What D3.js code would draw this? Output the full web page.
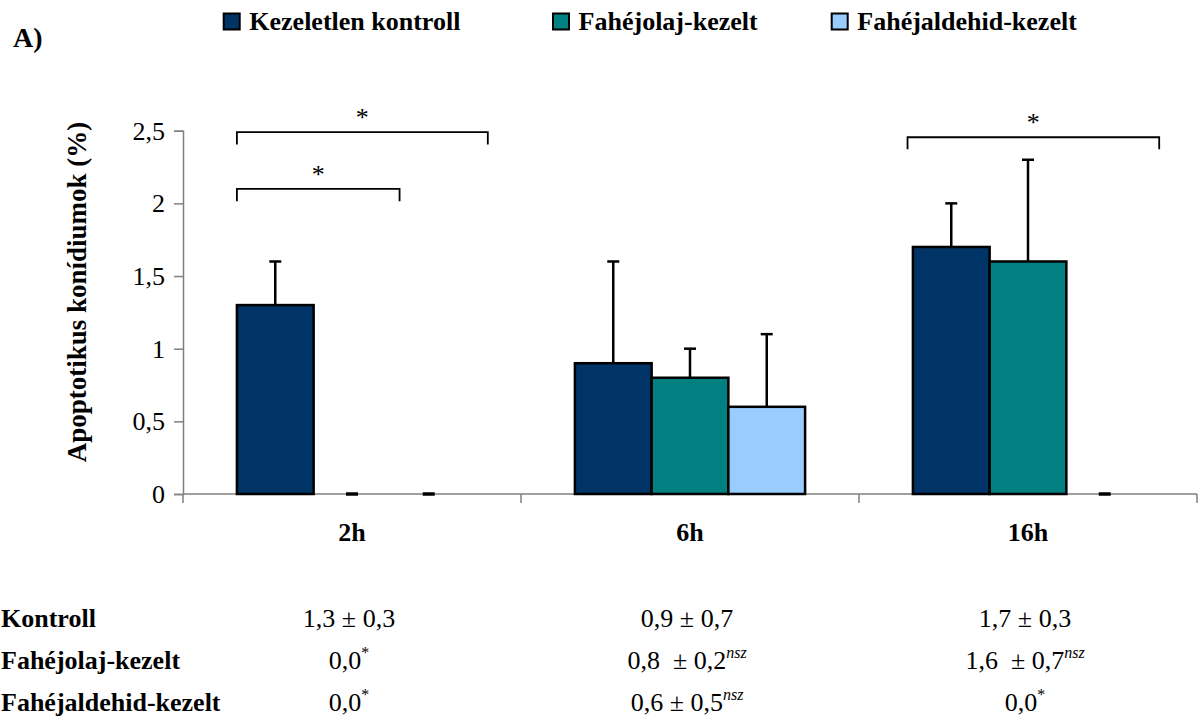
<!DOCTYPE html>
<html>
<head>
<meta charset="utf-8">
<script src="https://cdn.jsdelivr.net/npm/d3@7"></script>
</head>
<body style="margin:0;padding:0;background:#fff">
<svg id="chart" width="1201" height="724"></svg>
<script>
// Time points and treatment groups
const categories = ["2h", "6h", "16h"];
const seriesNames = ["Kezeletlen kontroll", "Fahéjolaj-kezelt", "Fahéjaldehid-kezelt"];
const seriesColors = ["#003366", "#008080", "#99ccff"];

// Apoptotic conidia (%) – mean and SD per time point
const controlValues   = [1.3, 0.9, 1.7];
const controlErrors   = [0.3, 0.7, 0.3];
const oilValues       = [0.0, 0.8, 1.6];
const oilErrors       = [0.0, 0.2, 0.7];
const aldehydeValues  = [0.0, 0.6, 0.0];
const aldehydeErrors  = [0.0, 0.5, 0.0];

const yTicks = [0, 0.5, 1, 1.5, 2, 2.5];
const yLabel = "Apoptotikus konídiumok (%)";
const panelLabel = "A)";

// Summary table under the chart: [value text, superscript]
const tableRowLabels = ["Kontroll", "Fahéjolaj-kezelt", "Fahéjaldehid-kezelt"];
const tableControl  = [["1,3 ± 0,3", ""], ["0,9 ± 0,7", ""], ["1,7 ± 0,3", ""]];
const tableOil      = [["0,0", "*"], ["0,8\u00a0 ± 0,2", "nsz"], ["1,6\u00a0 ± 0,7", "nsz"]];
const tableAldehyde = [["0,0", "*"], ["0,6 ± 0,5", "nsz"], ["0,0", "*"]];

// Significance brackets: span given in bar widths from the group's left edge, height in data units
const brackets = [
  { cat: "2h",  from: 0,     to: 2.12, y: 2.10, drop: 0.085, mark: "*" },
  { cat: "2h",  from: 0,     to: 3.27, y: 2.49, drop: 0.085, mark: "*" },
  { cat: "16h", from: -0.07, to: 3.21, y: 2.455, drop: 0.083, mark: "*" }
];

const series = [
  { name: seriesNames[0], values: controlValues,  errors: controlErrors,  color: seriesColors[0] },
  { name: seriesNames[1], values: oilValues,      errors: oilErrors,      color: seriesColors[1] },
  { name: seriesNames[2], values: aldehydeValues, errors: aldehydeErrors, color: seriesColors[2] }
];

const svg = d3.select("#chart");
const FONT = '"Liberation Serif"';
const FS = 26;

// Helper: serif text with inline style
function serif(sel, size, bold) {
  return sel.style("font-family", FONT)
    .style("font-size", size + "px")
    .style("font-weight", bold ? "bold" : "normal")
    .style("fill", "#000");
}

const x = d3.scaleBand().domain(categories).range([183, 1197]).paddingInner(0).paddingOuter(0);
const y = d3.scaleLinear().domain([0, 2.5]).range([494, 130.7]);
const barW = x.bandwidth() * 0.227;
const inner = d3.scaleBand().domain(seriesNames).range([0, 3 * barW]);
const groupLeft = c => x(c) + (x.bandwidth() - 3 * barW) / 2;

// Y axis
const yAxis = svg.append("g")
  .attr("transform", "translate(183,0)")
  .call(d3.axisLeft(y).tickValues(yTicks).tickSize(9).tickPadding(9)
    .tickFormat(d => String(d).replace(".", ",")));
yAxis.attr("font-family", null).attr("font-size", null);
yAxis.select(".domain").attr("stroke", "#808080").attr("stroke-width", 1.5);
yAxis.selectAll(".tick line").attr("stroke", "#808080").attr("stroke-width", 1.5);
serif(yAxis.selectAll(".tick text"), FS, false);

// X axis: baseline with ticks at category boundaries
const xBase = svg.append("g");
xBase.append("line")
  .attr("x1", x.range()[0]).attr("x2", x.range()[1])
  .attr("y1", y(0)).attr("y2", y(0))
  .attr("stroke", "#808080").attr("stroke-width", 1.5);
const boundaries = categories.map(c => x(c)).concat([x(categories[categories.length - 1]) + x.bandwidth()]);
xBase.selectAll("line.bt").data(boundaries).enter().append("line")
  .attr("class", "bt")
  .attr("x1", d => d).attr("x2", d => d)
  .attr("y1", y(0)).attr("y2", y(0) + 9)
  .attr("stroke", "#808080").attr("stroke-width", 1.5);

// Category labels
serif(svg.selectAll("text.cat").data(categories).enter().append("text")
  .attr("class", "cat")
  .attr("x", d => x(d) + x.bandwidth() / 2)
  .attr("y", 541)
  .attr("text-anchor", "middle"), FS, true)
  .text(d => d);

// Bars and error bars
const barData = [];
series.forEach(s => categories.forEach((c, i) => {
  barData.push({ cat: c, name: s.name, v: s.values[i], e: s.errors[i], color: s.color });
}));
const bx = d => groupLeft(d.cat) + inner(d.name);

svg.append("g").selectAll("rect").data(barData.filter(d => d.v > 0)).enter().append("rect")
  .attr("x", bx)
  .attr("y", d => y(d.v))
  .attr("width", barW)
  .attr("height", d => y(0) - y(d.v))
  .attr("fill", d => d.color)
  .attr("stroke", "#000").attr("stroke-width", 2.5);

const eb = svg.append("g").attr("stroke", "#000").attr("stroke-width", 2.5);
eb.selectAll("line.stem").data(barData.filter(d => d.e > 0)).enter().append("line")
  .attr("class", "stem")
  .attr("x1", d => bx(d) + barW / 2).attr("x2", d => bx(d) + barW / 2)
  .attr("y1", d => y(d.v)).attr("y2", d => y(d.v + d.e));
eb.selectAll("line.cap").data(barData).enter().append("line")
  .attr("class", "cap")
  .attr("x1", d => bx(d) + barW / 2 - 6).attr("x2", d => bx(d) + barW / 2 + 6)
  .attr("y1", d => y(d.v + d.e)).attr("y2", d => y(d.v + d.e))
  .attr("stroke-width", d => d.e > 0 ? 2.5 : 3.5);

// Significance brackets
const br = svg.append("g");
brackets.forEach(b => {
  const x1 = groupLeft(b.cat) + b.from * barW;
  const x2 = groupLeft(b.cat) + b.to * barW;
  br.append("path")
    .attr("d", `M${x1},${y(b.y - b.drop)}V${y(b.y)}H${x2}V${y(b.y - b.drop)}`)
    .attr("fill", "none").attr("stroke", "#000").attr("stroke-width", 1.8);
  serif(br.append("text")
    .attr("x", (x1 + x2) / 2).attr("y", y(b.y) - 6)
    .attr("text-anchor", "middle"), FS, false)
    .text(b.mark);
});

// Y axis title
serif(svg.append("text")
  .attr("transform", "translate(86,292) rotate(-90)")
  .attr("text-anchor", "middle"), 27, true)
  .text(yLabel);

// Panel label
serif(svg.append("text").attr("x", 13).attr("y", 47), 28, true).text(panelLabel);

// Legend
const legendX = [222.7, 552, 830.7];
const lg = svg.append("g");
series.forEach((s, i) => {
  lg.append("rect")
    .attr("x", legendX[i] + 1).attr("y", 13.5)
    .attr("width", 16).attr("height", 16)
    .attr("fill", s.color).attr("stroke", "#000").attr("stroke-width", 2);
  serif(lg.append("text")
    .attr("x", legendX[i] + 26.6).attr("y", 30), FS, true)
    .text(s.name);
});

// Summary table
const tableRows = [tableControl, tableOil, tableAldehyde];
const rowY = [627, 669, 711];
tableRowLabels.forEach((lab, r) => {
  serif(svg.append("text").attr("x", 1).attr("y", rowY[r]), FS, true).text(lab);
  categories.forEach((c, i) => {
    const cell = tableRows[r][i];
    const t = serif(svg.append("text")
      .attr("x", x(c) + x.bandwidth() / 2 - 3).attr("y", rowY[r])
      .attr("text-anchor", "middle"), FS, false);
    t.append("tspan").text(cell[0]);
    if (cell[1]) {
      t.append("tspan")
        .attr("dy", -11)
        .style("font-size", "16px")
        .style("font-style", cell[1] === "*" ? "normal" : "italic")
        .text(cell[1]);
    }
  });
});
</script>
</body>
</html>
